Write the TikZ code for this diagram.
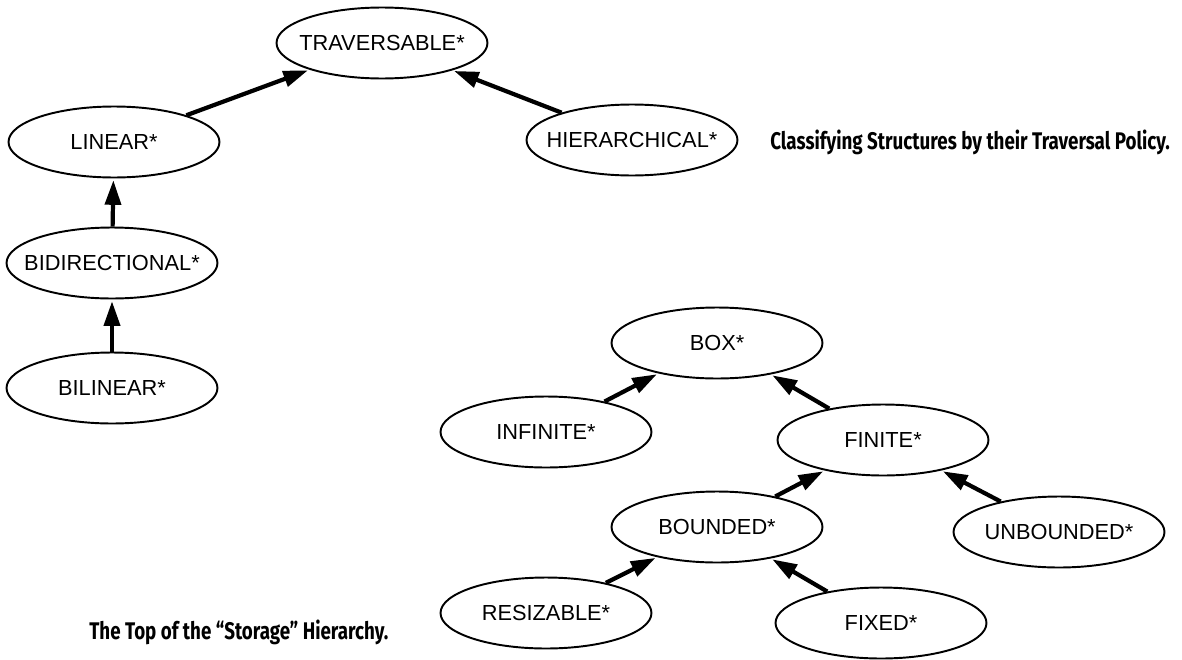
\documentclass[tikz,border=0pt]{standalone}
\usepackage{fontspec}
\setmainfont{Liberation Sans}
\newfontfamily\capfont[FakeStretch=0.78]{Fira Sans}
\usetikzlibrary{arrows.meta, positioning, shapes.geometric}

\newcommand{\clsname}[1]{\makebox[0pt]{#1}}

\begin{document}
\begin{tikzpicture}[
        x=0.02cm, y=-0.02cm,
        cls/.style={draw, ellipse, line width=1.1pt, inner sep=0pt, minimum width=4.22cm, minimum height=1.42cm, font=\fontsize{12.4}{14}\selectfont},
        isa/.style={-{Triangle[length=14pt, width=9pt]}, line width=2.4pt, shorten >=1pt},
        caption/.style={font=\capfont\bfseries\fontsize{13.7}{15}\selectfont, inner sep=0pt}
    ]
        \useasboundingbox (0,0) rectangle (1182,659);

        % traversal policy
        \node[cls] (trav) at (382,43) {\clsname{TRAVERSABLE*}};
        \node[cls] (lin) at (114,142) {\clsname{LINEAR*}};
        \node[cls] (hier) at (632,140) {\clsname{HIERARCHICAL*}};
        \node[cls] (bidir) at (112,263) {\clsname{BIDIRECTIONAL*}};
        \node[cls] (bilin) at (112,388) {\clsname{BILINEAR*}};

        \draw[isa] (lin) -- (trav);
        \draw[isa] (hier) -- (trav);
        \draw[isa] (bidir) -- (lin);
        \draw[isa] (bilin) -- (bidir);

        \node[caption, anchor=west] (travcap) at (770,142) {Classifying Structures by their Traversal Policy.};

        % storage hierarchy
        \node[cls] (box) at (717,343) {\clsname{BOX*}};
        \node[cls] (inf) at (546,432) {\clsname{INFINITE*}};
        \node[cls] (fin) at (883,440) {\clsname{FINITE*}};
        \node[cls] (bnd) at (717,527) {\clsname{BOUNDED*}};
        \node[cls] (unbnd) at (1059,532) {\clsname{UNBOUNDED*}};
        \node[cls] (resz) at (546,613) {\clsname{RESIZABLE*}};
        \node[cls] (fixd) at (881,623) {\clsname{FIXED*}};

        \draw[isa] (inf) -- (box);
        \draw[isa] (fin) -- (box);
        \draw[isa] (bnd) -- (fin);
        \draw[isa] (unbnd) -- (fin);
        \draw[isa] (resz) -- (bnd);
        \draw[isa] (fixd) -- (bnd);

        \node[caption, anchor=west] (storcap) at (89,632) {The Top of the “Storage” Hierarchy.};
    \end{tikzpicture}
\end{document}
